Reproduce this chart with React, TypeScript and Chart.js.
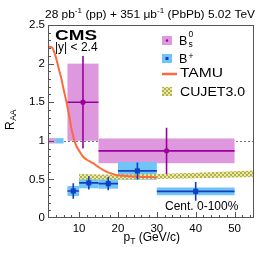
import React, { useEffect, useRef } from 'react';
import { Chart, registerables } from 'chart.js';

Chart.register(...registerables);

// ---------- data ----------
const xTicks = [10, 20, 30, 40, 50];
const yTicks = [0, 0.5, 1, 1.5, 2, 2.5];

// Bs0
const bsX = [11, 32.5];
const bsXLo = [7, 15];
const bsXHi = [15, 50];
const bsY = [1.5, 0.87];
const bsStat = [0.6, 0.3];
const bsSyst = [0.5, 0.16];

// B+
const bpX = [8.5, 12.5, 17.5, 25, 40];
const bpXLo = [7, 10, 15, 20, 30];
const bpXHi = [10, 15, 20, 30, 50];
const bpY = [0.35, 0.455, 0.445, 0.61, 0.345];
const bpStat = [0.1, 0.085, 0.085, 0.11, 0.12];
const bpSyst = [0.065, 0.07, 0.065, 0.115, 0.05];

// global uncertainty boxes at unity
const globBsX = [2, 3.85];
const globBpX = [3.85, 6];
const globHalf = [0.035, 0.035];

// TAMU
const tamuX = [2, 3, 3.6, 4.2, 5, 5.5, 6, 6.8, 7.5, 8.1, 9, 10, 11.1, 12, 13.6, 15, 17, 18.5, 19.8, 22, 25, 28, 30];
const tamuY = [2.22, 2.21, 2.15, 2.05, 1.89, 1.79, 1.67, 1.49, 1.31, 1.14, 0.97, 0.87, 0.79, 0.755, 0.71, 0.66, 0.6, 0.575, 0.555, 0.545, 0.535, 0.53, 0.525];

// CUJET3.0 band
const cujetX = [10, 15, 20, 30, 40, 50, 55];
const cujetLo = [0.5, 0.5, 0.5, 0.505, 0.515, 0.525, 0.53];
const cujetHi = [0.57, 0.565, 0.565, 0.57, 0.585, 0.605, 0.615];

// ---------- styles ----------
const BS_FILL = '#de98de';
const BS_LINE = '#990099';
const BP_FILL = '#70c4f8';
const BP_LINE = '#1040c0';
const TAMU_COL = '#ff6a3d';
const FONT = '"Liberation Sans", Arial, Helvetica, sans-serif';

function drawFit(ctx: CanvasRenderingContext2D, text: string, x: number, y: number, font: string, width?: number) {
  ctx.font = font;
  const w = ctx.measureText(text).width;
  if (width) {
    ctx.save();
    ctx.translate(x, y);
    ctx.scale(width / w, 1);
    ctx.fillText(text, 0, 0);
    ctx.restore();
    return width;
  }
  ctx.fillText(text, x, y);
  return w;
}

type Seg = { t: string; sup?: boolean; sub?: boolean };
function drawRich(ctx: CanvasRenderingContext2D, segs: Seg[], x: number, y: number, size: number, targetW?: number) {
  const small = size * 0.68;
  let total = 0;
  for (const s of segs) {
    ctx.font = `${s.sup || s.sub ? small : size}px ${FONT}`;
    total += ctx.measureText(s.t).width;
  }
  const k = targetW ? targetW / total : 1;
  ctx.save();
  ctx.translate(x, y);
  ctx.scale(k, 1);
  let cx = 0;
  for (const s of segs) {
    ctx.font = `${s.sup || s.sub ? small : size}px ${FONT}`;
    const dy = s.sup ? -size * 0.42 : s.sub ? size * 0.28 : 0;
    ctx.fillText(s.t, cx, dy);
    cx += ctx.measureText(s.t).width;
  }
  ctx.restore();
}

const customPlugin = {
  id: 'customDraw',
  beforeDatasetsDraw(chart: any) {
    const { ctx, chartArea: a, scales } = chart;
    const x = scales.x, y = scales.y;
    ctx.save();
    ctx.beginPath();
    ctx.rect(a.left, a.top, a.right - a.left, a.bottom - a.top);
    ctx.clip();
    // dotted unity line
    ctx.strokeStyle = '#777';
    ctx.lineWidth = 1;
    ctx.setLineDash([2, 2]);
    const py = Math.round(y.getPixelForValue(1)) + 0.5;
    ctx.beginPath();
    ctx.moveTo(a.left, py);
    ctx.lineTo(a.right, py);
    ctx.stroke();
    ctx.setLineDash([]);
    const box = (x0: number, x1: number, y0: number, y1: number, col: string) => {
      const px0 = x.getPixelForValue(x0), px1 = x.getPixelForValue(x1);
      const py0 = y.getPixelForValue(y1), py1 = y.getPixelForValue(y0);
      ctx.fillStyle = col;
      ctx.fillRect(px0, py0, px1 - px0, py1 - py0);
    };
    // global boxes
    box(globBsX[0], globBsX[1], 1 - globHalf[0], 1 + globHalf[0], BS_FILL);
    box(globBpX[0], globBpX[1], 1 - globHalf[1], 1 + globHalf[1], BP_FILL);
    // syst boxes
    bsX.forEach((_, i) => box(bsXLo[i], bsXHi[i], bsY[i] - bsSyst[i], bsY[i] + bsSyst[i], BS_FILL));
    bpX.forEach((_, i) => box(bpXLo[i], bpXHi[i], bpY[i] - bpSyst[i], bpY[i] + bpSyst[i], BP_FILL));
    ctx.restore();
  },
  beforeDatasetDraw(chart: any, args: any) {
    const { ctx, scales } = chart;
    const x = scales.x, y = scales.y;
    const bars = (xs: number[], lo: number[], hi: number[], ys: number[], st: number[], col: string) => {
      ctx.save();
      ctx.strokeStyle = col;
      ctx.lineWidth = 1.6;
      xs.forEach((xv, i) => {
        const px = x.getPixelForValue(xv);
        const pyv = y.getPixelForValue(ys[i]);
        ctx.beginPath();
        ctx.moveTo(x.getPixelForValue(lo[i]), pyv);
        ctx.lineTo(x.getPixelForValue(hi[i]), pyv);
        ctx.moveTo(px, y.getPixelForValue(ys[i] + st[i]));
        ctx.lineTo(px, y.getPixelForValue(ys[i] - st[i]));
        ctx.stroke();
      });
      ctx.restore();
    };
    if (args.index === 0) bars(bsX, bsXLo, bsXHi, bsY, bsStat, BS_LINE);
    if (args.index === 1) bars(bpX, bpXLo, bpXHi, bpY, bpStat, BP_LINE);
  },
  afterDraw(chart: any) {
    const { ctx, chartArea: a, scales } = chart;
    const x = scales.x, y = scales.y;
    const pattern = chart.options.plugins.customDraw.pattern;
    ctx.save();
    // frame
    ctx.strokeStyle = '#555';
    ctx.lineWidth = 1;
    ctx.strokeRect(a.left + 0.5, a.top + 0.5, a.right - a.left - 1, a.bottom - a.top - 1);
    // x ticks
    ctx.beginPath();
    for (let v = 4; v <= 54; v += 2) {
      const px = Math.round(x.getPixelForValue(v)) + 0.5;
      const len = v % 10 === 0 ? 6 : 3;
      ctx.moveTo(px, a.bottom);
      ctx.lineTo(px, a.bottom - len);
    }
    // y ticks
    for (let k = 1; k <= 24; k++) {
      const v = k / 10;
      const pyv = Math.round(y.getPixelForValue(v)) + 0.5;
      const len = k % 5 === 0 ? 6 : 3;
      ctx.moveTo(a.left, pyv);
      ctx.lineTo(a.left + len, pyv);
    }
    ctx.stroke();

    ctx.fillStyle = '#000';
    ctx.textBaseline = 'alphabetic';
    ctx.textAlign = 'left';
    // title
    drawRich(ctx, [
      { t: '28 pb' }, { t: '-1', sup: true }, { t: ' (pp) + 351 \u03bcb' }, { t: '-1', sup: true }, { t: ' (PbPb) 5.02 TeV' },
    ], 45, 17.5, 11, 210);
    // CMS
    drawFit(ctx, 'CMS', 55, 40, `bold 14px ${FONT}`, 42);
    drawFit(ctx, '|y| < 2.4', 55, 50.5, `12px ${FONT}`);
    drawFit(ctx, 'Cent. 0-100%', 165, 209.5, `12px ${FONT}`);

    // x title
    {
      ctx.font = `12px ${FONT}`;
      const w1 = ctx.measureText('p').width;
      ctx.font = `8.5px ${FONT}`;
      const w2 = ctx.measureText('T').width;
      ctx.font = `12px ${FONT}`;
      const w3 = ctx.measureText(' (GeV/c)').width;
      const x0 = 180 - (w1 + w2 + w3);
      ctx.fillText('p', x0, 241);
      ctx.font = `8.5px ${FONT}`;
      ctx.fillText('T', x0 + w1, 244);
      ctx.font = `12px ${FONT}`;
      ctx.fillText(' (GeV/c)', x0 + w1 + w2, 241);
    }
    // y title
    ctx.save();
    ctx.translate(13.5, 130);
    ctx.rotate(-Math.PI / 2);
    ctx.font = `12px ${FONT}`;
    ctx.fillText('R', 0, 0);
    const rw = ctx.measureText('R').width;
    ctx.font = `8.5px ${FONT}`;
    ctx.fillText('AA', rw + 0.5, 2.5);
    ctx.restore();

    // legend
    // Bs
    ctx.fillStyle = BS_FILL;
    ctx.fillRect(162, 36, 10, 9);
    ctx.fillStyle = BS_LINE;
    ctx.beginPath();
    ctx.arc(167, 40.5, 1.2, 0, Math.PI * 2);
    ctx.fill();
    ctx.fillStyle = '#000';
    drawFit(ctx, 'B', 179, 44.7, `12.5px ${FONT}`);
    drawFit(ctx, '0', 188.5, 36.5, `8.5px ${FONT}`);
    drawFit(ctx, 's', 188.5, 47, `8.5px ${FONT}`);
    // B+
    ctx.fillStyle = BP_FILL;
    ctx.fillRect(162, 54, 10, 9);
    ctx.fillStyle = BP_LINE;
    ctx.fillRect(165.5, 57, 3, 3);
    ctx.fillStyle = '#000';
    drawFit(ctx, 'B', 179, 63, `12.5px ${FONT}`);
    drawFit(ctx, '+', 188.5, 58.5, `8.5px ${FONT}`);
    // TAMU
    ctx.strokeStyle = TAMU_COL;
    ctx.lineWidth = 2.5;
    ctx.beginPath();
    ctx.moveTo(162, 74);
    ctx.lineTo(177, 74);
    ctx.stroke();
    drawFit(ctx, 'TAMU', 180, 77.3, `12.5px ${FONT}`, 43);
    // CUJET
    ctx.fillStyle = pattern;
    ctx.fillRect(162, 87, 10, 9);
    ctx.fillStyle = '#000';
    drawFit(ctx, 'CUJET3.0', 180, 96.3, `12.5px ${FONT}`, 65);
    ctx.restore();
  },
};

export default function App() {
  const ref = useRef<HTMLCanvasElement>(null);
  useEffect(() => {
    document.body.style.margin = '0';
    const canvas = ref.current!;
    const pc = document.createElement('canvas');
    pc.width = 4;
    pc.height = 4;
    const pctx = pc.getContext('2d')!;
    pctx.fillStyle = '#e9e8a4';
    pctx.fillRect(0, 0, 4, 4);
    pctx.fillStyle = '#b2b14e';
    pctx.fillRect(0, 0, 2, 2);
    pctx.fillRect(2, 2, 2, 2);
    const pattern = canvas.getContext('2d')!.createPattern(pc, 'repeat')!;

    const chart = new Chart(canvas, {
      type: 'scatter',
      data: {
        datasets: [
          {
            label: 'Bs',
            data: bsX.map((v, i) => ({ x: v, y: bsY[i] })),
            pointStyle: 'circle',
            pointRadius: 2.6,
            backgroundColor: BS_LINE,
            borderColor: BS_LINE,
            borderWidth: 0,
          },
          {
            label: 'B+',
            data: bpX.map((v, i) => ({ x: v, y: bpY[i] })),
            pointStyle: 'rect',
            pointRadius: 3.6,
            backgroundColor: BP_LINE,
            borderColor: BP_LINE,
            borderWidth: 0,
          },
          {
            label: 'TAMU',
            data: tamuX.map((v, i) => ({ x: v, y: tamuY[i] })),
            showLine: true,
            pointRadius: 0,
            borderColor: TAMU_COL,
            borderWidth: 2,
            cubicInterpolationMode: 'monotone',
            fill: false,
          } as any,
          {
            label: 'CUJET hi',
            data: cujetX.map((v, i) => ({ x: v, y: cujetHi[i] })),
            showLine: true,
            pointRadius: 0,
            borderWidth: 0,
            borderColor: 'rgba(0,0,0,0)',
            fill: false,
          } as any,
          {
            label: 'CUJET lo',
            data: cujetX.map((v, i) => ({ x: v, y: cujetLo[i] })),
            showLine: true,
            pointRadius: 0,
            borderWidth: 0,
            borderColor: 'rgba(0,0,0,0)',
            backgroundColor: pattern,
            fill: '-1',
          } as any,
        ],
      },
      options: {
        animation: false,
        responsive: false,
        devicePixelRatio: 1,
        layout: { padding: { top: 25, right: 12, left: 0, bottom: 0 } },
        plugins: {
          legend: { display: false },
          tooltip: { enabled: false },
          title: { display: false },
          customDraw: { pattern },
        } as any,
        scales: {
          x: {
            type: 'linear',
            min: 2,
            max: 55,
            grid: { display: false, drawTicks: false },
            border: { display: false },
            afterBuildTicks: (s: any) => { s.ticks = xTicks.map((v) => ({ value: v })); },
            afterFit: (s: any) => { s.height = 37; },
            ticks: { color: '#000', font: { family: FONT, size: 11.5 }, padding: 4, maxRotation: 0, autoSkip: false },
          },
          y: {
            type: 'linear',
            min: 0,
            max: 2.5,
            grid: { display: false, drawTicks: false },
            border: { display: false },
            afterBuildTicks: (s: any) => { s.ticks = yTicks.map((v) => ({ value: v })); },
            afterFit: (s: any) => { s.width = 48; },
            ticks: { color: '#000', font: { family: FONT, size: 11.5 }, padding: 3, autoSkip: false, callback: (v: any) => String(v) },
          },
        },
      },
      plugins: [customPlugin as any],
    });
    return () => chart.destroy();
  }, []);
  return <canvas ref={ref} width={266} height={255} style={{ display: 'block' }} />;
}
